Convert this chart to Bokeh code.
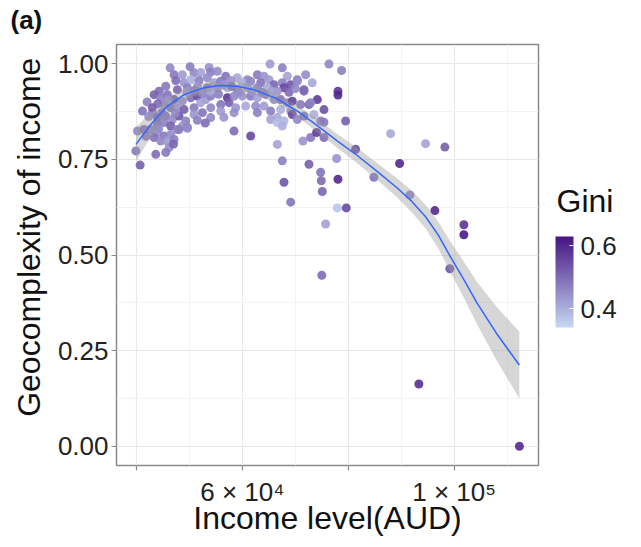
from bokeh.plotting import figure
from bokeh.models import (ColumnDataSource, LinearColorMapper, ColorBar, FixedTicker,
                          NumeralTickFormatter, Range1d)
from bokeh.embed import file_html
from bokeh.resources import INLINE

# ---- observations: income level (AUD), geocomplexity of income, Gini ----
income = [
    46350, 50120, 53710, 47100, 48670, 50880, 52130, 54020, 55280, 56850, 59050,
    60940, 62830, 64080, 65220, 67540, 68490, 70370, 71950, 73200, 76350,
    47420, 48990, 50250, 51820, 53390, 54650, 55910, 57790, 60000, 61570, 63460,
    65030, 65970, 67540, 69120, 70370, 71630, 67860, 66600, 64710, 62830, 60940,
    59050, 57170, 55280, 53390, 51500, 49620, 47730, 45530, 44270,
    43330, 44590, 45840, 47100, 48670, 50250, 51500, 53080, 54020, 57170, 57480,
    58420, 60000, 61570, 62830, 64400, 65970, 67230, 68490, 69430, 71000, 72580,
    74150, 75410, 45210, 46470, 47730, 48990, 50880, 52130, 54020, 55910, 58740,
    60620, 62510, 64080, 65340, 67230, 69120, 71630, 72890,
    41130, 43010, 43960, 45530, 46790, 48040, 49300, 50880, 52450, 54020, 55910,
    43960, 45210, 46470, 47730, 48670, 49620, 58420, 62830, 66600, 67860, 69430,
    70370, 71630, 73520, 74780, 65340, 66600, 67540,
    40180, 41440, 42700, 43960, 45210, 46470, 43330, 44590, 45840, 47100, 46160,
    45530, 43640, 49620, 48040, 58420, 61570, 66600, 71440, 72890, 75410, 67540,
    39870, 40690,
    72580, 74780, 74900, 75090, 67860, 74020, 75410, 69120, 75720, 78050, 78050,
    78740, 79500, 78050, 77920, 79620, 77800, 81380, 84840, 87990, 89690, 91640,
    94590, 98240, 96350, 101830, 101830, 93330, 112320, 99170, 75000,
    42000, 44000, 46000, 43000, 42300, 44800, 47300, 49500, 51000, 52500, 54000,
    55500, 56500, 58000, 59500, 61800, 63700, 65500, 68800, 70000, 41800, 44200,
    47000, 51500, 53000, 56500,
]

geocomplexity = [
    0.989, 0.992, 0.990, 0.971, 0.971, 0.976, 0.977, 0.978, 0.980, 0.967, 0.963,
    0.958, 0.971, 0.967, 0.999, 0.989, 0.967, 0.958, 0.971, 0.950, 0.999,
    0.956, 0.950, 0.958, 0.956, 0.963, 0.950, 0.954, 0.956, 0.950, 0.954, 0.950,
    0.958, 0.945, 0.950, 0.945, 0.954, 0.932, 0.937, 0.928, 0.937, 0.937, 0.937,
    0.932, 0.937, 0.937, 0.937, 0.941, 0.937, 0.932, 0.941, 0.928,
    0.919, 0.911, 0.919, 0.906, 0.902, 0.911, 0.915, 0.906, 0.915, 0.911, 0.898,
    0.915, 0.915, 0.915, 0.911, 0.919, 0.906, 0.906, 0.898, 0.902, 0.893, 0.893,
    0.906, 0.880, 0.893, 0.885, 0.885, 0.880, 0.885, 0.898, 0.885, 0.893, 0.885,
    0.889, 0.889, 0.889, 0.876, 0.880, 0.876, 0.928, 0.898,
    0.876, 0.872, 0.859, 0.863, 0.854, 0.863, 0.850, 0.867, 0.872, 0.859, 0.876,
    0.841, 0.846, 0.837, 0.828, 0.837, 0.833, 0.872, 0.872, 0.859, 0.850, 0.867,
    0.854, 0.863, 0.867, 0.850, 0.854, 0.846, 0.837,
    0.824, 0.828, 0.828, 0.820, 0.811, 0.815, 0.807, 0.798, 0.798, 0.802, 0.781,
    0.768, 0.763, 0.831, 0.828, 0.824, 0.811, 0.789, 0.798, 0.807, 0.807, 0.746,
    0.772, 0.735,
    0.737, 0.716, 0.694, 0.666, 0.690, 0.820, 0.847, 0.638, 0.581, 0.928, 0.918,
    0.982, 0.850, 0.698, 0.623, 0.623, 0.752, 0.776, 0.703, 0.817, 0.739, 0.657,
    0.791, 0.782, 0.616, 0.579, 0.553, 0.163, 0.000, 0.464, 0.447,
    0.900, 0.895, 0.905, 0.885, 0.862, 0.872, 0.870, 0.925, 0.930, 0.922, 0.928,
    0.920, 0.945, 0.940, 0.925, 0.927, 0.925, 0.928, 0.925, 0.935, 0.810, 0.830,
    0.790, 0.852, 0.845, 0.860,
]

gini = [
    0.46, 0.47, 0.44, 0.48, 0.43, 0.46, 0.42, 0.47, 0.45, 0.49, 0.41,
    0.46, 0.48, 0.44, 0.43, 0.47, 0.42, 0.48, 0.45, 0.41, 0.46,
    0.50, 0.44, 0.40, 0.47, 0.45, 0.42, 0.48, 0.44, 0.40, 0.46, 0.49,
    0.43, 0.51, 0.47, 0.53, 0.45, 0.52, 0.55, 0.44, 0.41, 0.46, 0.43,
    0.47, 0.40, 0.45, 0.49, 0.44, 0.47, 0.51, 0.48, 0.50,
    0.52, 0.47, 0.49, 0.53, 0.45, 0.50, 0.55, 0.43, 0.47, 0.58, 0.52,
    0.46, 0.44, 0.48, 0.42, 0.47, 0.45, 0.50, 0.46, 0.56, 0.48, 0.51,
    0.57, 0.54, 0.46, 0.50, 0.44, 0.52, 0.48, 0.42, 0.46, 0.49, 0.44,
    0.41, 0.45, 0.43, 0.47, 0.40, 0.44, 0.50, 0.47,
    0.49, 0.46, 0.51, 0.48, 0.45, 0.53, 0.47, 0.44, 0.49, 0.46, 0.43,
    0.50, 0.47, 0.52, 0.46, 0.44, 0.48, 0.45, 0.47, 0.41, 0.39, 0.55,
    0.46, 0.49, 0.40, 0.47, 0.42, 0.38, 0.40,
    0.46, 0.50, 0.47, 0.44, 0.48, 0.45, 0.49, 0.46, 0.43, 0.47, 0.45,
    0.48, 0.50, 0.45, 0.47, 0.50, 0.55, 0.42, 0.44, 0.48, 0.50, 0.47,
    0.48, 0.52,
    0.52, 0.49, 0.50, 0.51, 0.53, 0.57, 0.48, 0.49, 0.42, 0.58, 0.60,
    0.47, 0.52, 0.60, 0.37, 0.55, 0.44, 0.55, 0.49, 0.41, 0.60, 0.47,
    0.42, 0.52, 0.60, 0.58, 0.62, 0.59, 0.60, 0.53, 0.50,
    0.47, 0.50, 0.44, 0.52, 0.45, 0.49, 0.46, 0.43, 0.48, 0.46, 0.41,
    0.47, 0.44, 0.49, 0.45, 0.44, 0.47, 0.42, 0.50, 0.46, 0.48, 0.45,
    0.51, 0.47, 0.50, 0.44,
]

# ---- smoothed trend with its confidence band ----
smooth_income = [39900, 42700, 45850, 49000, 52750, 55900, 59050, 62200, 66600,
                 70400, 74150, 77900, 81700, 85500, 89250, 92000, 94600, 97000,
                 99300, 101800, 104300, 108000, 112300]
smooth_fit = [0.789, 0.841, 0.889, 0.919, 0.937, 0.943, 0.941, 0.932, 0.908,
              0.876, 0.838, 0.798, 0.760, 0.718, 0.675, 0.640, 0.600, 0.552,
              0.495, 0.436, 0.375, 0.295, 0.2125]
smooth_lower = [0.744, 0.809, 0.867, 0.903, 0.924, 0.931, 0.929, 0.920, 0.895,
                0.861, 0.821, 0.780, 0.740, 0.696, 0.650, 0.612, 0.569, 0.517,
                0.455, 0.389, 0.320, 0.225, 0.125]
smooth_upper = [0.834, 0.873, 0.911, 0.935, 0.950, 0.955, 0.953, 0.944, 0.921,
                0.891, 0.855, 0.816, 0.780, 0.740, 0.700, 0.668, 0.631, 0.587,
                0.535, 0.483, 0.430, 0.365, 0.300]

x_ticks = [40000, 60000, 80000, 100000]
x_minor = [50000, 70000, 90000, 110000]
x_tick_labels = {40000: "", 60000: "6 \u00d7 10\u2074", 80000: "", 100000: "1 \u00d7 10\u2075"}
y_ticks = [0.0, 0.25, 0.5, 0.75, 1.0]
y_minor = [0.125, 0.375, 0.625, 0.875]
gini_ticks = [0.4, 0.6]

FONT = "Liberation Sans"
TITLE_SIZE = "32px"
TICK_SIZE = "26px"

# light blue -> deep purple gradient for Gini
LOW = (198, 216, 244)
HIGH = (70, 20, 130)
palette = ["#%02x%02x%02x" % tuple(round(lo + (hi - lo) * i / 255) for lo, hi in zip(LOW, HIGH))
           for i in range(256)]
mapper = LinearColorMapper(palette=palette, low=0.34, high=0.63)

p = figure(frame_width=422, frame_height=421,
           x_range=Range1d(36226, 115925), y_range=Range1d(-0.05, 1.05),
           output_backend="svg", toolbar_location=None,
           min_border_left=116, min_border_right=103,
           min_border_top=44, min_border_bottom=82,
           background_fill_color="white", border_fill_color="white")

p.outline_line_color = "#8a8a8a"
p.outline_line_width = 1.5

# axes
p.xaxis.ticker = FixedTicker(ticks=x_ticks, minor_ticks=x_minor)
p.yaxis.ticker = FixedTicker(ticks=y_ticks, minor_ticks=y_minor)
p.xaxis.major_label_overrides = x_tick_labels
p.yaxis.formatter = NumeralTickFormatter(format="0.00")
p.xaxis.axis_label = "Income level(AUD)"
# leading no-break spaces lift the title a little above the panel centre
p.yaxis.axis_label = "\u00a0\u00a0\u00a0\u00a0Geocomplexity of income"
for ax in (p.xaxis, p.yaxis):
    ax.axis_line_color = None
    ax.major_tick_line_color = "#8a8a8a"
    ax.major_tick_line_width = 1.2
    ax.major_tick_out = 5
    ax.major_tick_in = 0
    ax.minor_tick_line_color = None
    ax.major_label_text_font = FONT
    ax.major_label_text_font_size = TICK_SIZE
    ax.major_label_text_color = "#222222"
    ax.axis_label_text_font = FONT
    ax.axis_label_text_font_size = TITLE_SIZE
    ax.axis_label_text_font_style = "normal"
    ax.axis_label_text_color = "#111111"
p.yaxis.major_label_standoff = 3
p.yaxis.axis_label_standoff = 8
p.xaxis.major_label_standoff = 6
p.xaxis.axis_label_standoff = -10

# grid
for g in (p.xgrid, p.ygrid):
    g.grid_line_color = "#e8e8e8"
    g.grid_line_width = 1.2
    g.minor_grid_line_color = "#f3f3f3"
    g.minor_grid_line_width = 1

src = ColumnDataSource(dict(income=income, geocomplexity=geocomplexity, gini=gini))
p.scatter("income", "geocomplexity", source=src, size=9,
          fill_color={"field": "gini", "transform": mapper},
          line_color=None, fill_alpha=0.9)

p.varea(x=smooth_income, y1=smooth_lower, y2=smooth_upper,
        fill_color="#999999", fill_alpha=0.4)
p.line(smooth_income, smooth_fit, line_color="#3366FF", line_width=1.5)

# Gini colour bar beside the panel
cb = ColorBar(color_mapper=mapper, ticker=FixedTicker(ticks=gini_ticks),
              width=18, height=91, location=(439, 138),
              padding=0, margin=0,
              major_label_text_font=FONT, major_label_text_font_size=TICK_SIZE,
              major_label_text_color="#222222", label_standoff=7,
              major_tick_line_color="white", major_tick_in=4, major_tick_out=0,
              bar_line_color=None, background_fill_color=None, border_line_color=None)
p.add_layout(cb, "center")


def heading(text, loc, size, style):
    """A free-standing heading: the title of a horizontal bar that is not drawn."""
    return ColorBar(color_mapper=mapper, orientation="horizontal",
                    ticker=FixedTicker(ticks=[]), width=40, height=1,
                    location=loc, padding=0, margin=0, scale_alpha=0,
                    title=text, title_text_font=FONT, title_text_font_size=size,
                    title_text_font_style=style, title_text_color="#111111",
                    title_standoff=0, major_tick_line_color=None,
                    minor_tick_line_color=None, bar_line_color=None,
                    background_fill_color=None, border_line_color=None)


p.add_layout(heading("Gini", (440, 246), TITLE_SIZE, "normal"), "center")
p.add_layout(heading("(a)", (-106, 430), "26px", "bold"), "center")

open("out.html", "w").write(file_html(p, INLINE))
